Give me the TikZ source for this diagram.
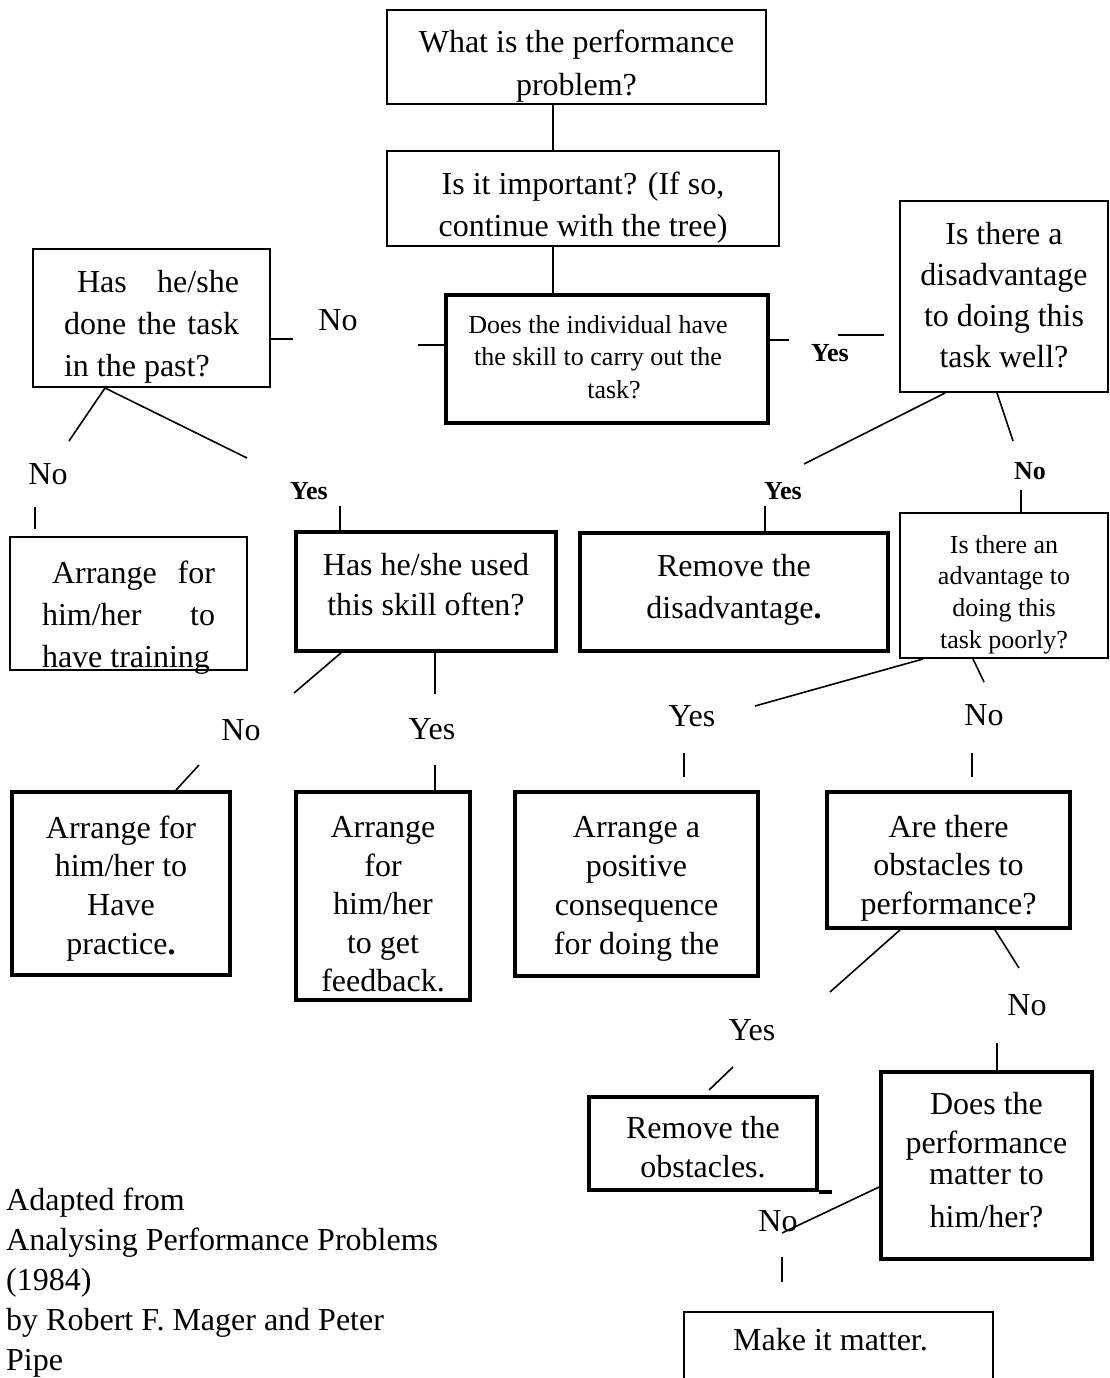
\documentclass[tikz,border=0pt]{standalone}
\usepackage{fontspec}
\setmainfont{Liberation Serif}
% box text: a centred stack of lines, optionally lowered inside its frame
\newcommand\btext[2][0pt]{\raisebox{-#1}[\height][\depth]{\begin{tabular}{@{}c@{}}#2\end{tabular}}}
\begin{document}
\begin{tikzpicture}[x=1pt,y=-1pt,
  box/.style={draw, line width=2pt, inner sep=0pt},
  heavy/.style={box, line width=3.8pt},
  wh/.style 2 args={minimum width=#1pt, minimum height=#2pt},
  fs/.style={font=\fontsize{32}{#1}\selectfont},
  fss/.style={font=\fontsize{26}{#1}\selectfont},
  lbl/.style={inner sep=0pt, font=\fontsize{32}{38}\selectfont},
  blbl/.style={inner sep=0pt, font=\fontsize{26}{30}\selectfont\bfseries},
  link/.style={line width=1.6pt}
]
\useasboundingbox[fill=white] (0,0) rectangle (1110,1378);

% ---- question and action boxes ----
\node[box, wh={379}{94}, fs=43] (perf) at (576.5,57)
  {\btext[8pt]{What is the performance\\problem?}};
\node[box, wh={392}{95}, fs=42] (imp) at (583,198.5)
  {\btext[9pt]{Is it important? (If so,\\continue with the tree)}};
\node[heavy, wh={322}{128}, fss=32.5] (skill) at (607,359)
  {\btext{Does the individual have\\the skill to carry out the\\\hspace*{32pt}task?}\hspace*{18pt}};
\node[box, wh={237}{138}, fs=42] (past) at (151.5,318)
  {\btext[8pt]{\makebox[175pt][r]{\makebox[162pt][s]{Has he/she}}\\
   \makebox[175pt][s]{done the task}\\
   \makebox[175pt][l]{in the past?}}};
\node[box, wh={208}{191}, fs=41] (dis) at (1004,296.5)
  {\btext[1pt]{Is there a\\disadvantage\\to doing this\\task well?}};
\node[box, wh={237}{133}, fs=42] (train) at (128.5,603.5)
  {\btext[14pt]{\makebox[173pt][r]{\makebox[163pt][s]{Arrange for}}\\
   \makebox[173pt][s]{him/her to}\\
   \makebox[173pt][l]{have training}}};
\node[heavy, wh={260}{119}, fs=40] (used) at (426,591.5)
  {\btext[-4pt]{Has he/she used\\this skill often?}};
\node[heavy, wh={308}{118}, fs=42] (remdis) at (734,592)
  {\btext[-3pt]{Remove the\\disadvantage\textbf{.}}};
\node[box, wh={208}{145}, fss=31.7] (adv) at (1004,585.5)
  {\btext[9pt]{Is there an\\advantage to\\doing this\\task poorly?}};
\node[heavy, wh={218}{183}, fs=38.7] (practice) at (121,883.5)
  {\btext[5pt]{Arrange for\\him/her to\\Have\\practice\textbf{.}}};
\node[heavy, wh={174}{208}, fs=38.5] (feedback) at (383,896)
  {\btext[11pt]{Arrange\\for\\him/her\\to get\\feedback.}};
\node[heavy, wh={243}{184}, fs=39] (conseq) at (636.5,884)
  {\btext[4pt]{Arrange a\\positive\\consequence\\for doing the}};
\node[heavy, wh={243}{136}, fs=38.5] (obst) at (948.5,860)
  {\btext[8pt]{Are there\\obstacles to\\performance?}};
\node[heavy, wh={228}{93}, fs=39] (remobs) at (703,1143.5)
  {\btext[7pt]{Remove the\\obstacles.}};
\node[heavy, wh={211}{187}, fs=39] (matter) at (986.5,1165.5)
  {\btext[-2pt]{Does the\\performance\\[-8pt]matter to\\[4pt]him/her?}};
\node[inner sep=0pt, wh={309}{56}, fs=38] (make) at (838.5,1340) {Make it matter.\hspace*{16pt}};
\draw[line width=2pt] ([yshift=-80pt]make.north west) -- (make.north west)
  -- (make.north east) -- ([yshift=-80pt]make.north east);
\draw[line width=3.8pt] (remobs.south east) -- ++(13,0);

% ---- branch labels ----
\node[lbl]  (pastNoLbl)   at (338,320)  {No};
\node[blbl] (skillYesLbl) at (830,353)  {Yes};
\node[lbl]  (trainLbl)    at (48,474)   {No};
\node[blbl] (usedLbl)     at (309,491)  {Yes};
\node[blbl] (remdisLbl)   at (783,491)  {Yes};
\node[blbl] (advLbl)      at (1030,471) {No};
\node[lbl]  (pracLbl)     at (241,730)  {No};
\node[lbl]  (fbLbl)       at (432,729)  {Yes};
\node[lbl]  (conseqLbl)   at (692,716)  {Yes};
\node[lbl]  (obstLbl)     at (984,715)  {No};
\node[lbl]  (remobsLbl)   at (752,1030) {Yes};
\node[lbl]  (matterLbl)   at (1027,1005) {No};
\node[lbl]  (makeLbl)     at (778,1221) {No};

% ---- source note ----
\node[inner sep=0pt, anchor=north west, align=left, fs=40] (source) at (6,1188)
  {Adapted from\\Analysing Performance Problems\\(1984)\\by Robert F. Mager and Peter\\Pipe};

% ---- connector end points ----
\coordinate (spine) at (553,0);
\coordinate (pastNo) at (293,339);
\coordinate (skillNo) at (418,345);
\coordinate (skillYes) at (789,340);
\coordinate (disYesA) at (838,335);
\coordinate (disYesB) at (884,335);
\coordinate (pastFork) at (105,0);
\coordinate (pastNoEnd) at (69,441);
\coordinate (pastYesEnd) at (247,458);
\coordinate (trainInA) at (35,507);
\coordinate (trainInB) at (35,529);
\coordinate (usedIn) at (340,506);
\coordinate (disForkY) at (945,0);
\coordinate (disYesEnd) at (804,464);
\coordinate (disForkN) at (997,0);
\coordinate (disNoEnd) at (1013,441);
\coordinate (remdisIn) at (765,506);
\coordinate (advIn) at (1021,490);
\coordinate (advForkY) at (923,0);
\coordinate (advYesEnd) at (755,706);
\coordinate (advForkN) at (973,0);
\coordinate (advNoEnd) at (984,682);
\coordinate (usedForkN) at (341,0);
\coordinate (usedNoEnd) at (294,693);
\coordinate (usedForkY) at (435,0);
\coordinate (usedYesEnd) at (435,694);
\coordinate (pracIn) at (199,765);
\coordinate (pracFoot) at (176,0);
\coordinate (fbIn) at (435,765);
\coordinate (conseqInA) at (684,753);
\coordinate (conseqInB) at (684,777);
\coordinate (obstInA) at (972,753);
\coordinate (obstInB) at (972,777);
\coordinate (obstForkY) at (900,0);
\coordinate (obstYesEnd) at (830,992);
\coordinate (obstForkN) at (995,0);
\coordinate (obstNoEnd) at (1019,968);
\coordinate (remobsInA) at (733,1067);
\coordinate (remobsInB) at (709,1090);
\coordinate (matterIn) at (997,1043);
\coordinate (matterFork) at (0,1187);
\coordinate (matterNoEnd) at (782,1233);
\coordinate (makeInA) at (782,1257);
\coordinate (makeInB) at (782,1282);

% ---- connectors ----
\draw[link] (perf.south -| spine) -- (imp.north -| spine);
\draw[link] (imp.south -| spine) -- (skill.north -| spine);
\draw[link] (pastNo -| past.east) -- (pastNo);
\draw[link] (skillNo) -- (skillNo -| skill.west);
\draw[link] (skillYes -| skill.east) -- (skillYes);
\draw[link] (disYesA) -- (disYesB);
\draw[link] (pastNoEnd) -- (past.south -| pastFork) -- (pastYesEnd);
\draw[link] (trainInA) -- (trainInB);
\draw[link] (usedIn) -- (used.north -| usedIn);
\draw[link] (dis.south -| disForkY) -- (disYesEnd);
\draw[link] (dis.south -| disForkN) -- (disNoEnd);
\draw[link] (remdisIn) -- (remdis.north -| remdisIn);
\draw[link] (advIn) -- (adv.north -| advIn);
\draw[link] (adv.south -| advForkY) -- (advYesEnd);
\draw[link] (adv.south -| advForkN) -- (advNoEnd);
\draw[link] (used.south -| usedForkN) -- (usedNoEnd);
\draw[link] (used.south -| usedForkY) -- (usedYesEnd);
\draw[link] (pracIn) -- (practice.north -| pracFoot);
\draw[link] (fbIn) -- (feedback.north -| fbIn);
\draw[link] (conseqInA) -- (conseqInB);
\draw[link] (obstInA) -- (obstInB);
\draw[link] (obst.south -| obstForkY) -- (obstYesEnd);
\draw[link] (obst.south -| obstForkN) -- (obstNoEnd);
\draw[link] (remobsInA) -- (remobsInB);
\draw[link] (matterIn) -- (matter.north -| matterIn);
\draw[link] (matterFork -| matter.west) -- (matterNoEnd);
\draw[link] (makeInA) -- (makeInB);
\end{tikzpicture}
\end{document}
